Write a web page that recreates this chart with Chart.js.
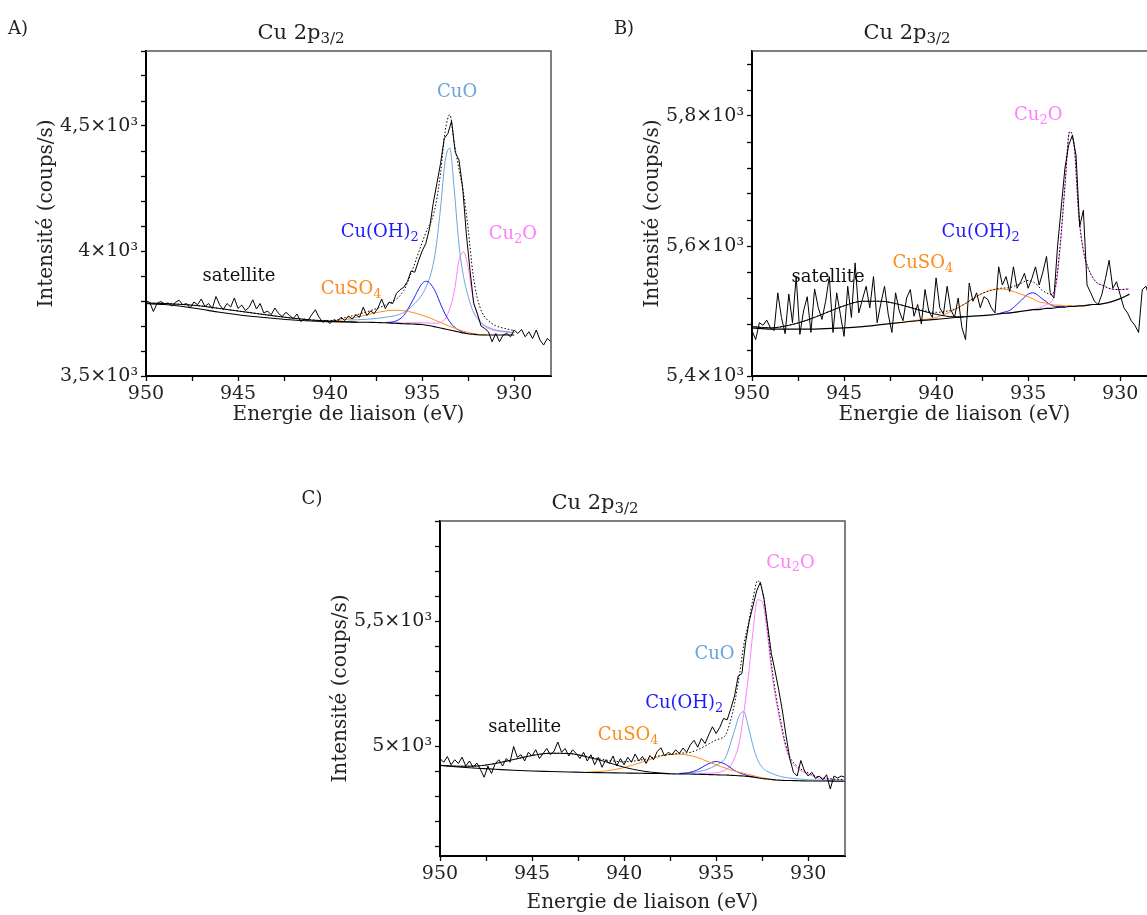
<!DOCTYPE html>
<html>
<head>
<meta charset="utf-8">
<script src="https://cdn.jsdelivr.net/npm/chart.js@4.4.1/dist/chart.umd.min.js"></script>
<style>
    html, body { margin: 0; padding: 0; background: #fff; width: 1147px; height: 915px; overflow: hidden; }
    canvas { position: absolute; }
</style>
</head>
<body>
<canvas id="panel-a" width="575" height="445" style="left:0px;top:0px"></canvas>
<canvas id="panel-b" width="575" height="445" style="left:606px;top:0px"></canvas>
<canvas id="panel-c" width="575" height="445" style="left:294px;top:470px"></canvas>
<script>
// ---------- shared energy axes ----------
const rawEnergy = [950, 949.8, 949.6, 949.4, 949.2, 949, 948.8, 948.6, 948.4, 948.2, 948, 947.8, 947.6, 947.4, 947.2, 947,
    946.8, 946.6, 946.4, 946.2, 946, 945.8, 945.6, 945.4, 945.2, 945, 944.8, 944.6, 944.4, 944.2, 944, 943.8, 943.6, 943.4,
    943.2, 943, 942.8, 942.6, 942.4, 942.2, 942, 941.8, 941.6, 941.4, 941.2, 941, 940.8, 940.6, 940.4, 940.2, 940, 939.8,
    939.6, 939.4, 939.2, 939, 938.8, 938.6, 938.4, 938.2, 938, 937.8, 937.6, 937.4, 937.2, 937, 936.8, 936.6, 936.4, 936.2,
    936, 935.8, 935.6, 935.4, 935.2, 935, 934.8, 934.6, 934.4, 934.2, 934, 933.8, 933.6, 933.4, 933.2, 933, 932.8, 932.6,
    932.4, 932.2, 932, 931.8, 931.6, 931.4, 931.2, 931, 930.8, 930.6, 930.4, 930.2, 930, 929.8, 929.6, 929.4, 929.2, 929,
    928.8, 928.6, 928.4, 928.2, 928];

const fitEnergyA = [950, 949, 948, 947, 946, 945, 944, 943, 942, 941, 940, 939, 938.5, 938, 937.5, 937, 936.5, 936, 935.5,
    935, 934.75, 934.5, 934.25, 934, 933.75, 933.5, 933.25, 933, 932.75, 932.5, 932.25, 932, 931.75, 931.5, 931.25, 931,
    930.5, 930];
const fitEnergyB = fitEnergyA.concat([929.5]);
const fitEnergyC = fitEnergyA.concat([929.5, 929, 928.5, 928]);

const xTickValues = [950, 947.5, 945, 942.5, 940, 937.5, 935, 932.5, 930];
const xTickLabels = ['950', '', '945', '', '940', '', '935', '', '930'];

// ---------- panel A ----------
const rawA = [3800, 3795, 3758, 3790, 3798, 3789, 3792, 3780, 3795, 3803, 3785, 3790, 3772, 3796, 3785, 3808, 3778, 3790,
    3770, 3818, 3785, 3766, 3790, 3776, 3812, 3770, 3784, 3762, 3775, 3805, 3768, 3790, 3752, 3760, 3745, 3772, 3750, 3738,
    3755, 3742, 3730, 3748, 3718, 3728, 3722, 3745, 3765, 3735, 3715, 3722, 3710, 3725, 3718, 3735, 3722, 3740, 3728, 3745,
    3735, 3775, 3742, 3760, 3750, 3772, 3808, 3770, 3795, 3790, 3830, 3845, 3855, 3878, 3920, 3915, 3960, 4000, 4030, 4090,
    4190, 4270, 4350, 4450, 4470, 4520, 4395, 4364, 4255, 4069, 3923, 3790, 3750, 3700, 3690, 3677, 3637, 3670, 3637, 3664,
    3670, 3657, 3684, 3670, 3686, 3657, 3677, 3650, 3684, 3644, 3624, 3650, 3637];
const envA = [3792, 3790, 3786, 3780, 3770, 3760, 3750, 3740, 3731, 3724, 3722, 3737, 3746, 3757, 3769, 3784, 3802, 3842,
    3930, 4034, 4082, 4120, 4189, 4312, 4478, 4545, 4428, 4327, 4230, 4089, 3915, 3812, 3755, 3728, 3712, 3701, 3690, 3682];
const bgA = [3790, 3786, 3778, 3767, 3755, 3745, 3737, 3730, 3724, 3720, 3717, 3716, 3715, 3715, 3714, 3713, 3711, 3709,
    3708, 3706, 3703, 3700, 3696, 3692, 3688, 3684, 3680, 3676, 3672, 3669, 3667, 3665, 3664, 3664, 3664, 3664, 3664, 3664];
const satA = [3792, 3790, 3786, 3780, 3770, 3760, 3750, 3740, 3731, 3724, 3719, 3717, 3715, null, null, null, null, null,
    null, null, null, null, null, null, null, null, null, null, null, null, null, null, null, null, null, null, null, null];
const cuso4A = [null, null, null, null, null, null, null, null, null, 3720, 3720, 3728, 3736, 3745, 3753, 3760, 3763, 3761,
    3754, 3743, 3737, 3730, 3722, 3714, 3706, 3699, 3692, 3685, 3679, 3674, 3670, 3667, 3665, 3664, null, null, null, null];
const cuohA = [null, null, null, null, null, null, null, null, null, null, null, null, null, null, null, 3714, 3718, 3742,
    3804, 3870, 3879, 3864, 3833, 3788, 3748, 3717, 3696, 3683, 3674, 3669, null, null, null, null, null, null, null, null];
const cuoA = [null, null, null, null, null, null, null, null, null, null, null, 3724, 3725, 3727, 3730, 3735, 3741, 3754,
    3783, 3826, 3863, 3915, 4011, 4172, 4360, 4412, 4240, 4026, 3897, 3819, 3762, 3730, 3709, 3698, 3690, 3684, 3678, 3674];
const cu2oA = [null, null, null, null, null, null, null, null, null, null, null, null, null, null, null, 3714, 3713, 3712,
    3713, 3713, 3712, 3711, 3711, 3714, 3728, 3769, 3840, 3961, 3996, 3934, 3817, 3745, 3709, 3694, 3686, 3681, 3676, 3672];
const yTicksA = [3500, 3600, 3700, 3800, 3900, 4000, 4100, 4200, 4300, 4400, 4500, 4600, 4700, 4800];
const yMajorA = [3500, 4000, 4500];
const yMajorLabelsA = ['3,5×10³', '4×10³', '4,5×10³'];
const labelTextA = ['CuO', 'Cu(OH)_2', 'Cu_2O', 'CuSO_4', 'satellite'];
const labelEnergyA = [933.1, 937.3, 930.07, 938.86, 944.95];
const labelCountsA = [4641, 4080, 4072, 3851, 3903];

// ---------- panel B ----------
const rawB = [5470, 5456, 5482, 5478, 5486, 5474, 5470, 5528, 5490, 5465, 5526, 5482, 5553, 5464, 5500, 5522, 5467, 5534,
    5505, 5487, 5515, 5553, 5467, 5528, 5495, 5461, 5538, 5490, 5574, 5497, 5518, 5538, 5505, 5553, 5482, 5512, 5538, 5495,
    5467, 5528, 5500, 5485, 5520, 5533, 5492, 5510, 5480, 5533, 5500, 5490, 5551, 5505, 5495, 5538, 5502, 5490, 5520, 5475,
    5456, 5543, 5515, 5528, 5505, 5522, 5518, 5505, 5497, 5568, 5540, 5553, 5530, 5568, 5535, 5545, 5558, 5535, 5550, 5568,
    5540, 5560, 5584, 5528, 5520, 5600, 5660, 5720, 5755, 5770, 5740, 5630, 5655, 5540, 5528, 5515, 5510, 5525, 5550, 5578,
    5535, 5545, 5525, 5505, 5497, 5485, 5478, 5467, 5533, 5538, 5520, 5530, 5528];
const envB = [5476, 5474, 5478, 5486, 5497, 5508, 5515, 5515, 5510, 5503, 5498, 5503, 5510, 5519, 5527, 5532, 5535, 5536,
    5541, 5547, 5545, 5540, 5532, 5528, 5525, 5541, 5605, 5693, 5776, 5755, 5648, 5593, 5567, 5552, 5543, 5540, 5534, 5533,
    5534];
const bgB = [5474, 5472, 5472, 5472, 5473, 5474, 5476, 5479, 5482, 5485, 5487, 5490, 5491, 5492, 5493, 5494, 5496, 5497,
    5499, 5501, 5502, 5502, 5503, 5504, 5504, 5505, 5506, 5506, 5507, 5507, 5508, 5508, 5509, 5510, 5510, 5511, 5514, 5519,
    5526];
const satB = [5476, 5474, 5478, 5486, 5497, 5508, 5515, 5515, 5510, 5502, 5495, 5491, 5491, null, null, null, null, null,
    null, null, null, null, null, null, null, null, null, null, null, null, null, null, null, null, null, null, null, null,
    null];
const cuso4B = [null, null, null, null, null, null, null, null, 5482, 5486, 5490, 5502, 5510, 5519, 5527, 5532, 5534, 5532,
    5527, 5522, 5519, 5515, 5513, 5512, 5510, 5509, 5509, 5508, 5508, 5507, 5508, 5508, 5509, 5510, 5510, 5511, null, null,
    null];
const cuohB = [null, null, null, null, null, null, null, null, null, null, null, null, null, null, null, null, 5497, 5501,
    5513, 5526, 5528, 5525, 5519, 5514, 5509, 5507, 5507, 5506, null, null, null, null, null, null, null, null, null, null,
    null];
const cu2oB = [null, null, null, null, null, null, null, null, null, null, null, null, null, null, null, 5494, 5496, 5497,
    5499, 5501, 5502, 5504, 5506, 5510, 5514, 5535, 5601, 5691, 5775, 5755, 5648, 5593, 5567, 5552, 5543, 5540, 5534, 5533,
    5534];
const yTicksB = [5400, 5440, 5480, 5520, 5560, 5600, 5640, 5680, 5720, 5760, 5800, 5840, 5880];
const yMajorB = [5400, 5600, 5800];
const yMajorLabelsB = ['5,4×10³', '5,6×10³', '5,8×10³'];
const labelTextB = ['Cu_2O', 'Cu(OH)_2', 'CuSO_4', 'satellite'];
const labelEnergyB = [934.45, 937.58, 940.72, 945.87];
const labelCountsB = [5803, 5623, 5575, 5554];

// ---------- panel C ----------
const rawC = [4950, 4935, 4958, 4925, 4945, 4930, 4955, 4920, 4940, 4915, 4932, 4905, 4875, 4920, 4890, 4930, 4945, 4920,
    4950, 4935, 4998, 4955, 4965, 4940, 4975, 4960, 4985, 4950, 4970, 4990, 4965, 4980, 5016, 4975, 4990, 4960, 4985, 4970,
    4950, 4975, 4940, 4965, 4925, 4955, 4915, 4945, 4930, 4960, 4920, 4950, 4925, 4955, 4935, 4968, 4940, 4958, 4930, 4962,
    4945, 4978, 4993, 4960, 4975, 4965, 4985, 4970, 4992, 4975, 5005, 5023, 4995, 5030, 5010, 5045, 5077, 5050, 5075, 5110,
    5105, 5150, 5200, 5280, 5290, 5415, 5500, 5560, 5620, 5655, 5590, 5480, 5370, 5300, 5225, 5140, 5040, 4950, 4895, 4880,
    4942, 4900, 4880, 4895, 4870, 4880, 4865, 4885, 4828, 4880, 4872, 4880, 4875];
const envC = [4923, 4919, 4920, 4930, 4946, 4962, 4971, 4970, 4958, 4944, 4937, 4945, 4953, 4962, 4966, 4971, 4973, 4985,
    5004, 5024, 5030, 5043, 5092, 5170, 5277, 5404, 5489, 5588, 5661, 5626, 5502, 5332, 5204, 5103, 5014, 4957, 4913, 4893,
    4877, 4871, 4867, 4866];
const bgC = [4922, 4916, 4911, 4907, 4903, 4900, 4898, 4896, 4894, 4893, 4892, 4891, 4890, 4890, 4889, 4888, 4888, 4887,
    4886, 4885, 4884, 4884, 4883, 4882, 4881, 4880, 4878, 4876, 4873, 4870, 4868, 4866, 4864, 4863, 4862, 4862, 4861, 4860,
    4860, 4860, 4859, 4859];
const satC = [4923, 4919, 4920, 4930, 4946, 4962, 4971, 4970, 4956, 4937, 4915, 4900, 4895, 4892, 4889, null, null, null,
    null, null, null, null, null, null, null, null, null, null, null, null, null, null, null, null, null, null, null, null,
    null, null, null, null];
const cuso4C = [null, null, null, null, null, null, null, null, 4896, 4900, 4914, 4936, 4948, 4960, 4966, 4967, 4963, 4954,
    4939, 4925, 4918, 4912, 4905, 4900, 4895, 4891, 4886, 4882, 4877, 4873, 4870, 4867, 4864, null, null, null, null, null,
    null, null, null, null];
const cuohC = [null, null, null, null, null, null, null, null, null, null, null, null, null, null, null, 4889, 4893, 4905,
    4926, 4938, 4934, 4927, 4915, 4902, 4893, 4886, 4881, 4877, 4873, null, null, null, null, null, null, null, null, null,
    null, null, null, null];
const cuoC = [null, null, null, null, null, null, null, null, null, null, null, null, null, null, null, 4891, 4893, 4897,
    4906, 4923, 4934, 4952, 5003, 5062, 5121, 5137, 5078, 5001, 4945, 4915, 4900, 4891, 4884, 4878, 4874, 4872, 4868, 4865,
    4864, 4863, 4861, 4861];
const cu2oC = [null, null, null, null, null, null, null, null, null, null, null, null, null, null, null, null, null, 4890,
    4891, 4893, 4896, 4904, 4918, 4952, 5011, 5130, 5278, 5456, 5585, 5578, 5468, 5306, 5184, 5088, 5002, 4947, 4906, 4888,
    4873, 4868, 4865, 4864];
const yTicksC = [4600, 4700, 4800, 4900, 5000, 5100, 5200, 5300, 5400, 5500, 5600, 5700, 5800, 5900];
const yMajorC = [5000, 5500];
const yMajorLabelsC = ['5×10³', '5,5×10³'];
const labelTextC = ['Cu_2O', 'CuO', 'Cu(OH)_2', 'CuSO_4', 'satellite'];
const labelEnergyC = [930.96, 935.09, 936.73, 939.78, 945.4];
const labelCountsC = [5738, 5372, 5175, 5047, 5081];

// ---------- styling ----------
const FONT = '"DejaVu Serif", "Liberation Serif", serif';
const TEXT = '#222';
const COLORS = {
    black: '#000000',
    cuso4: '#ff8a1c',
    cuoh: '#1c1cff',
    cuo: '#6aa5dc',
    cu2o: '#ff7dff'
};
const LABEL_COLORS = {
    'CuO': COLORS.cuo, 'Cu(OH)_2': COLORS.cuoh, 'Cu_2O': COLORS.cu2o, 'CuSO_4': COLORS.cuso4, 'satellite': '#111'
};

/**
 * Draw text where "_xx" marks a subscript run (e.g. Cu_2O)
 */
function drawRich(ctx, text, x, y, size, color) {
    const parts = text.split(/_([0-9\/]+)/);
    const subSize = Math.round(size * 0.72);
    let total = 0;
    parts.forEach((p, i) => {
        ctx.font = `${i % 2 ? subSize : size}px ${FONT}`;
        total += ctx.measureText(p).width;
    });
    let cx = x - total / 2;
    ctx.fillStyle = color;
    ctx.textAlign = 'left';
    ctx.textBaseline = 'alphabetic';
    parts.forEach((p, i) => {
        const sub = i % 2 === 1;
        ctx.font = `${sub ? subSize : size}px ${FONT}`;
        ctx.fillText(p, cx, y + (sub ? size * 0.2 : 0));
        cx += ctx.measureText(p).width;
    });
}

/**
 * Per-panel decorations: frame, panel letter, title and peak labels
 */
function makeDecor(p) {
    return {
        id: 'decor-' + p.letter,
        afterDatasetsDraw(chart) {
            const {ctx, chartArea: a, scales: {x, y}} = chart;
            ctx.save();
            ctx.strokeStyle = '#555';
            ctx.lineWidth = 1.5;
            ctx.beginPath();
            ctx.moveTo(a.left, a.top);
            ctx.lineTo(a.right, a.top);
            ctx.lineTo(a.right, a.bottom);
            ctx.stroke();

            p.labelText.forEach((t, i) => {
                const px = x.getPixelForValue(p.labelEnergy[i]);
                const py = y.getPixelForValue(p.labelCounts[i]);
                drawRich(ctx, t, px, py + 6, 18, LABEL_COLORS[t]);
            });

            drawRich(ctx, p.letter + ')', a.left - 128, a.top - 17, 18, TEXT);
            drawRich(ctx, 'Cu 2p_3/2', a.left + 155, a.top - 12, 21, TEXT);
            ctx.restore();
        }
    };
}

function buildPanel(canvasId, p) {
    const pts = (xs, ys) => xs.map((e, i) => ({x: e, y: ys[i]}));
    const line = (label, xs, ys, color, extra) => Object.assign({
        label: label,
        data: pts(xs, ys),
        borderColor: color,
        borderWidth: 1,
        pointRadius: 0,
        fill: false,
        cubicInterpolationMode: 'monotone'
    }, extra || {});

    const datasets = [
        line('Mesure', rawEnergy, p.raw, COLORS.black, {cubicInterpolationMode: 'default', tension: 0}),
        line('Enveloppe', p.fitE, p.env, COLORS.black, {borderDash: [1.5, 2]}),
        line('Fond', p.fitE, p.bg, COLORS.black, {borderWidth: 1.2}),
        line('satellite', p.fitE, p.sat, COLORS.black),
        line('CuSO4', p.fitE, p.cuso4, COLORS.cuso4),
        line('Cu(OH)2', p.fitE, p.cuoh, COLORS.cuoh)
    ];
    if (p.cuo) datasets.push(line('CuO', p.fitE, p.cuo, COLORS.cuo));
    datasets.push(line('Cu2O', p.fitE, p.cu2o, COLORS.cu2o));

    return new Chart(document.getElementById(canvasId), {
        type: 'line',
        data: {datasets: datasets},
        options: {
            responsive: false,
            animation: false,
            devicePixelRatio: 1,
            events: [],
            layout: {padding: {top: 51, right: 24, left: 0, bottom: 0}},
            plugins: {legend: {display: false}, tooltip: {enabled: false}},
            scales: {
                x: {
                    type: 'linear',
                    min: 928,
                    max: 950,
                    reverse: true,
                    bounds: 'data',
                    afterBuildTicks: s => { s.ticks = xTickValues.map(v => ({value: v})); },
                    afterFit: s => { s.height = 445 - p.plotBottom; },
                    ticks: {
                        callback: (v, i) => xTickLabels[i],
                        autoSkip: false,
                        maxRotation: 0,
                        padding: 2,
                        color: TEXT,
                        font: {family: FONT, size: 19}
                    },
                    grid: {drawOnChartArea: false, tickLength: 5, tickColor: '#000', tickWidth: 1.3},
                    border: {color: '#000', width: 2},
                    title: {
                        display: true,
                        text: 'Energie de liaison (eV)',
                        color: TEXT,
                        font: {family: FONT, size: 20},
                        padding: {top: 0, bottom: p.xTitlePad}
                    }
                },
                y: {
                    type: 'linear',
                    min: p.yMin,
                    max: p.yMax,
                    bounds: 'data',
                    afterBuildTicks: s => { s.ticks = p.yTicks.map(v => ({value: v})); },
                    afterFit: s => { s.width = 146; },
                    ticks: {
                        callback: v => {
                            const i = p.yMajor.indexOf(v);
                            return i >= 0 ? p.yMajorLabels[i] : '';
                        },
                        autoSkip: false,
                        padding: 3,
                        color: TEXT,
                        font: {family: FONT, size: 19}
                    },
                    grid: {drawOnChartArea: false, tickLength: 5, tickColor: '#000', tickWidth: 1.3},
                    border: {color: '#000', width: 2},
                    title: {
                        display: true,
                        text: 'Intensité (coups/s)',
                        color: TEXT,
                        font: {family: FONT, size: 20},
                        padding: {top: 35, bottom: 0}
                    }
                }
            }
        },
        plugins: [makeDecor(p)]
    });
}

buildPanel('panel-a', {
    letter: 'A', fitE: fitEnergyA, raw: rawA, env: envA, bg: bgA, sat: satA,
    cuso4: cuso4A, cuoh: cuohA, cuo: cuoA, cu2o: cu2oA,
    yMin: 3500, yMax: 4800, yTicks: yTicksA, yMajor: yMajorA, yMajorLabels: yMajorLabelsA,
    labelText: labelTextA, labelEnergy: labelEnergyA, labelCounts: labelCountsA,
    plotBottom: 376, xTitlePad: 18
});
buildPanel('panel-b', {
    letter: 'B', fitE: fitEnergyB, raw: rawB, env: envB, bg: bgB, sat: satB,
    cuso4: cuso4B, cuoh: cuohB, cuo: null, cu2o: cu2oB,
    yMin: 5400, yMax: 5900, yTicks: yTicksB, yMajor: yMajorB, yMajorLabels: yMajorLabelsB,
    labelText: labelTextB, labelEnergy: labelEnergyB, labelCounts: labelCountsB,
    plotBottom: 376, xTitlePad: 18
});
buildPanel('panel-c', {
    letter: 'C', fitE: fitEnergyC, raw: rawC, env: envC, bg: bgC, sat: satC,
    cuso4: cuso4C, cuoh: cuohC, cuo: cuoC, cu2o: cu2oC,
    yMin: 4560, yMax: 5900, yTicks: yTicksC, yMajor: yMajorC, yMajorLabels: yMajorLabelsC,
    labelText: labelTextC, labelEnergy: labelEnergyC, labelCounts: labelCountsC,
    plotBottom: 386, xTitlePad: 0
});
</script>
</body>
</html>
